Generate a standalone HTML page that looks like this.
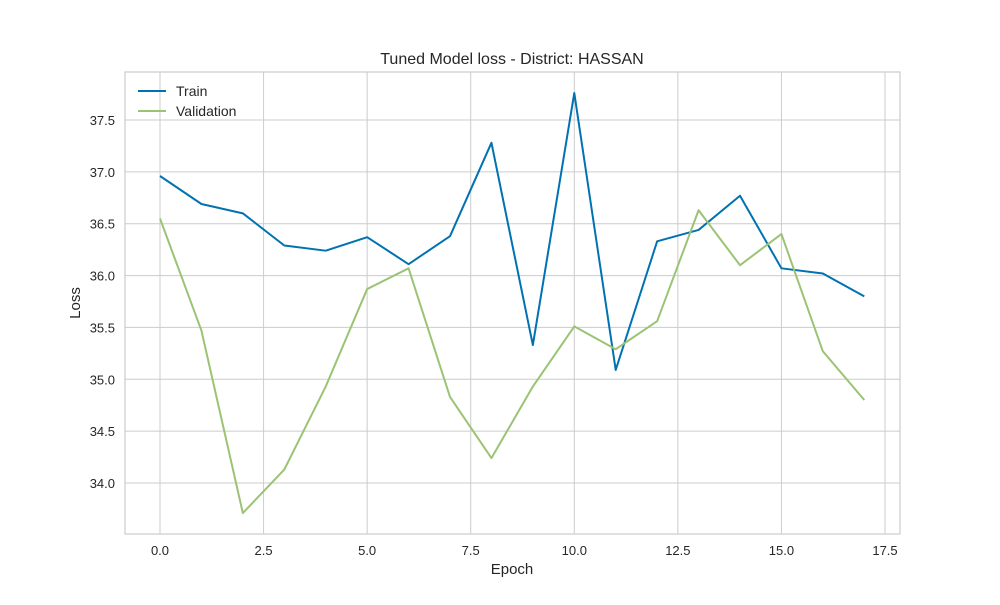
<!DOCTYPE html>
<html><head><meta charset="utf-8"><style>
body{margin:0;background:#fff;}
svg{font-family:"Liberation Sans",sans-serif;}
</style></head><body>
<svg id="chart" width="1000" height="600" xmlns="http://www.w3.org/2000/svg">
<rect width="1000" height="600" fill="#fff"/>
<g id="grid"></g>
<g id="series"></g>
<g id="ticks"></g>
<rect x="125" y="72" width="775" height="462" fill="none" stroke="#ccc" stroke-width="1.2"/>
<text x="512" y="64" text-anchor="middle" font-size="16" fill="#262626">Tuned Model loss - District: HASSAN</text>
<text x="512" y="574" text-anchor="middle" font-size="15" fill="#262626">Epoch</text>
<text x="80" y="303" text-anchor="middle" font-size="15" fill="#262626" transform="rotate(-90 80 303)">Loss</text>
<g>
<g><line x1="138" y1="91" x2="166" y2="91" stroke="#0072b2" stroke-width="2"/><text x="176" y="96" font-size="14" fill="#262626">Train</text></g>
<g><line x1="138" y1="111" x2="166" y2="111" stroke="#9bc374" stroke-width="2"/><text x="176" y="116" font-size="14" fill="#262626">Validation</text></g>
</g>
</svg>
<script>
const epochs=[0,1,2,3,4,5,6,7,8,9,10,11,12,13,14,15,16,17];
const trainLoss=[36.96,36.69,36.60,36.29,36.24,36.37,36.11,36.38,37.28,35.33,37.76,35.09,36.33,36.44,36.77,36.07,36.02,35.80];
const valLoss=[36.55,35.47,33.71,34.13,34.93,35.87,36.07,34.83,34.24,34.93,35.51,35.29,35.56,36.63,36.10,36.40,35.27,34.80];
const xTicks=[0,2.5,5,7.5,10,12.5,15,17.5];
const yTicks=[34.0,34.5,35.0,35.5,36.0,36.5,37.0,37.5];
const NS="http://www.w3.org/2000/svg";
function xs(v){return 160+v*(725/17.5);}
function ys(v){return 120-(v-37.5)*(363/3.5);}
const grid=document.getElementById('grid'),ticks=document.getElementById('ticks'),series=document.getElementById('series');
xTicks.forEach(t=>{
 const l=document.createElementNS(NS,'line');
 l.setAttribute('x1',xs(t));l.setAttribute('x2',xs(t));l.setAttribute('y1',72);l.setAttribute('y2',534);
 l.setAttribute('stroke','#ccc');l.setAttribute('stroke-width','1');
 
 
 grid.appendChild(l);
 const tx=document.createElementNS(NS,'text');
 tx.setAttribute('x',xs(t));tx.setAttribute('y',555);tx.setAttribute('text-anchor','middle');tx.setAttribute('font-size','13');tx.setAttribute('fill','#262626');
 tx.textContent=t.toFixed(1);
 
 
 ticks.appendChild(tx);
});
yTicks.forEach(t=>{
 const l=document.createElementNS(NS,'line');
 l.setAttribute('x1',125);l.setAttribute('x2',900);l.setAttribute('y1',ys(t));l.setAttribute('y2',ys(t));
 l.setAttribute('stroke','#ccc');l.setAttribute('stroke-width','1');
 
 
 grid.appendChild(l);
 const tx=document.createElementNS(NS,'text');
 tx.setAttribute('x',115);tx.setAttribute('y',ys(t)+5);tx.setAttribute('text-anchor','end');tx.setAttribute('font-size','13');tx.setAttribute('fill','#262626');
 tx.textContent=t.toFixed(1);
 
 
 ticks.appendChild(tx);
});
function drawLine(vals,color,name){
 const p=document.createElementNS(NS,'polyline');
 p.setAttribute('points',vals.map((v,i)=>xs(epochs[i])+','+ys(v)).join(' '));
 p.setAttribute('fill','none');p.setAttribute('stroke',color);p.setAttribute('stroke-width','2');p.setAttribute('stroke-linejoin','round');
 
 
 series.appendChild(p);
}
drawLine(trainLoss,'#0072b2','train-line');
drawLine(valLoss,'#9bc374','validation-line');
</script>
</body></html>
